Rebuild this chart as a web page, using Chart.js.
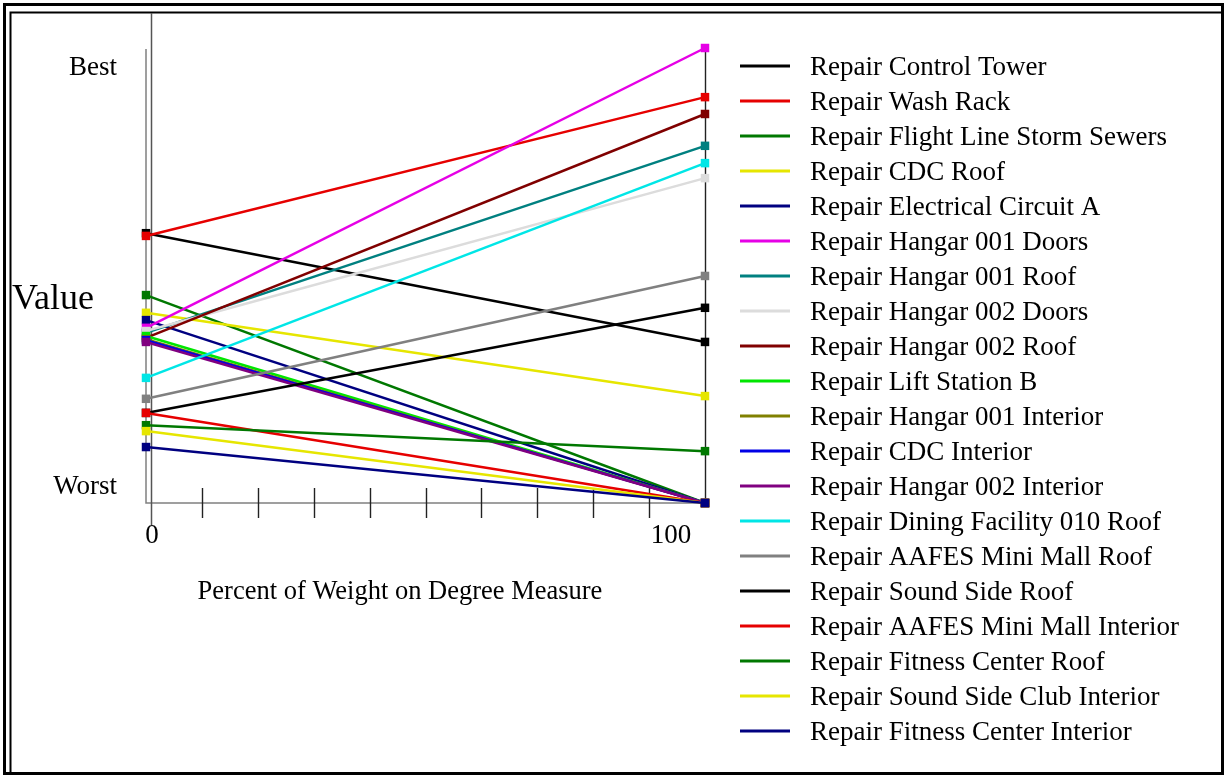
<!DOCTYPE html>
<html>
<head>
<meta charset="utf-8">
<script src="https://cdn.jsdelivr.net/npm/chart.js@4.4.0/dist/chart.umd.min.js"></script>
<style>
  html, body { margin: 0; padding: 0; background: #fff; }
  #wrap { position: relative; width: 1225px; height: 776px; }
  canvas { position: absolute; left: 0; top: 0; }
</style>
</head>
<body>
<div id="wrap"><canvas id="myChart" width="1225" height="776"></canvas></div>
<script>
// percent of weight on degree measure
var weights = [0, 100];

var projects = [
  "Repair Control Tower", "Repair Wash Rack", "Repair Flight Line Storm Sewers",
  "Repair CDC Roof", "Repair Electrical Circuit A", "Repair Hangar 001 Doors",
  "Repair Hangar 001 Roof", "Repair Hangar 002 Doors", "Repair Hangar 002 Roof",
  "Repair Lift Station B", "Repair Hangar 001 Interior", "Repair CDC Interior",
  "Repair Hangar 002 Interior", "Repair Dining Facility 010 Roof", "Repair AAFES Mini Mall Roof",
  "Repair Sound Side Roof", "Repair AAFES Mini Mall Interior", "Repair Fitness Center Roof",
  "Repair Sound Side Club Interior", "Repair Fitness Center Interior"
];

// value at 0% weight and at 100% weight (0 = worst, 1 = best)
var valueAt0 = [0.593, 0.587, 0.457, 0.418, 0.402, 0.385, 0.374, 0.378, 0.363, 0.367,
                0.360, 0.358, 0.354, 0.275, 0.229, 0.198, 0.198, 0.171, 0.158, 0.123];
var valueAt100 = [0.354, 0.892, 0, 0.235, 0, 1.0, 0.785, 0.714, 0.855, 0,
                  0, 0, 0, 0.747, 0.499, 0.429, 0, 0.114, 0, 0];

var colors = ["#000000", "#e60000", "#007800", "#e6e600", "#000080", "#e600e6",
              "#008080", "#dcdcdc", "#800000", "#00e600", "#808000", "#0000e6",
              "#800080", "#00e6e6", "#808080", "#000000", "#e60000", "#007800",
              "#e6e600", "#000080"];

var xTicks = [10, 20, 30, 40, 50, 60, 70, 80, 90];
var yLabels = ["Best", "Worst"];
var yLabelValues = [0.96, 0.04];

var serif = "'Liberation Serif', 'Times New Roman', serif";

var datasets = projects.map(function(name, i){
  return {
    label: name,
    data: [{x: weights[0], y: valueAt0[i]}, {x: weights[1], y: valueAt100[i]}],
    borderColor: colors[i],
    backgroundColor: colors[i],
    borderWidth: 2.5,
    pointStyle: 'rect',
    pointRadius: 6,
    pointBorderWidth: 0,
    clip: false,
    order: projects.length - i
  };
});

var frame = {
  id: 'frame',
  beforeDatasetsDraw: function(chart){
    var c = chart.ctx, xs = chart.scales.x, ys = chart.scales.y;
    var x0 = xs.getPixelForValue(0), x1 = xs.getPixelForValue(100);
    var yb = ys.getPixelForValue(0), yt = ys.getPixelForValue(1);
    c.save();
    // double border
    c.strokeStyle = '#000';
    c.lineWidth = 3;
    c.strokeRect(4.5, 4.5, 1218, 769);
    c.lineWidth = 2;
    c.strokeRect(10.5, 12.5, 1212, 761);
    // axes
    c.lineWidth = 1.5;
    c.strokeStyle = '#808080';
    c.beginPath();
    c.moveTo(x0, yt + 1); c.lineTo(x0, yb);
    c.lineTo(x1, yb);
    c.stroke();
    c.strokeStyle = '#555';
    c.beginPath();
    c.moveTo(x0 + 5.5, 13); c.lineTo(x0 + 5.5, yb + 22);
    c.stroke();
    c.strokeStyle = '#222';
    c.lineWidth = 1.4;
    c.beginPath();
    c.moveTo(x1 + 0.5, yt); c.lineTo(x1 + 0.5, yb);
    xTicks.forEach(function(t){
      var px = Math.round(xs.getPixelForValue(t)) + 0.5;
      c.moveTo(px, yb - 15); c.lineTo(px, yb + 15);
    });
    c.stroke();
    // text
    c.fillStyle = '#000';
    c.textBaseline = 'middle';
    c.font = '27px ' + serif;
    c.textAlign = 'right';
    yLabels.forEach(function(l, k){
      c.fillText(l, 117, ys.getPixelForValue(yLabelValues[k]) + 2);
    });
    c.textAlign = 'center';
    c.fillText('0', x0 + 6, yb + 33);
    c.fillText('100', x1 - 34, yb + 33);
    c.font = '26.5px ' + serif;
    c.fillText('Percent of Weight on Degree Measure', 400, 592);
    c.textAlign = 'left';
    c.font = '36px ' + serif;
    c.fillText('Value', 12, 300);
    // legend
    c.font = '27px ' + serif;
    projects.forEach(function(name, i){
      var y = 66 + i * 35;
      c.strokeStyle = colors[i];
      c.lineWidth = 3;
      c.beginPath();
      c.moveTo(740, y); c.lineTo(790, y);
      c.stroke();
      c.fillStyle = '#000';
      c.fillText(name, 810, y + 2);
    });
    c.restore();
  }
};

var ctx = document.getElementById('myChart').getContext('2d');
var chart = new Chart(ctx, {
  type: 'line',
  data: { datasets: datasets },
  options: {
    responsive: false,
    animation: false,
    layout: { padding: { left: 146, right: 520, top: 48, bottom: 273 } },
    plugins: { legend: { display: false }, tooltip: { enabled: false } },
    elements: { line: { tension: 0 } },
    scales: {
      x: { type: 'linear', min: 0, max: 100, display: false },
      y: { type: 'linear', min: 0, max: 1, display: false }
    }
  },
  plugins: [frame]
});
</script>
</body>
</html>
